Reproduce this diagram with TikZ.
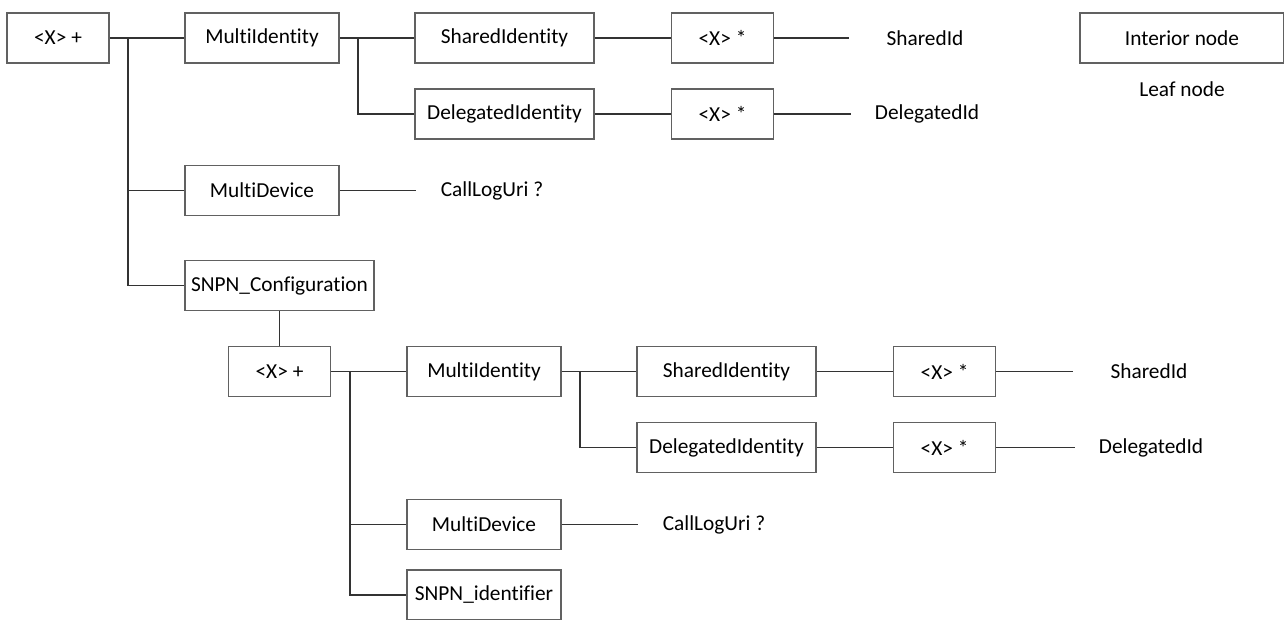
\documentclass[tikz,border=0pt]{standalone}
\usepackage{fontspec}
\setmainfont{Carlito}[Ligatures={NoCommon}]

\tikzset{
	box/.style={draw=black!62, line width=0.8pt, minimum height=37.5pt, inner sep=0pt, font=\fontsize{16}{19}\selectfont},
	xplus/.style={box, minimum width=76.5pt},
	multi/.style={box, minimum width=115.5pt},
	ident/.style={box, minimum width=134.25pt},
	leaf/.style={minimum width=114pt, minimum height=37.5pt, inner sep=0pt, font=\fontsize{16}{19}\selectfont},
	wire/.style={draw=black!80, line width=0.9pt}
}

\begin{document}
\begin{tikzpicture}[x=0.75pt, y=-0.75pt]
	\useasboundingbox (0, 0) rectangle (1284, 619);
	% Upper tree:
	\node[xplus](R1) at (58, 38){<X> +};
	\node[multi](MI1) at (262, 38){MultiIdentity};
	\node[multi](MD1) at (262, 190.5){MultiDevice};
	\node[box, minimum width=141.75pt](SC) at (279.5, 285.5){SNPN\_Configuration};
	\node[ident](SI1) at (504.5, 38){SharedIdentity};
	\node[ident](DI1) at (504.5, 114){DelegatedIdentity};
	\node[xplus](XS1) at (722.5, 38){<X> *};
	\node[xplus](XS2) at (722.5, 114){<X> *};
	\node[leaf](SL1) at (925, 38){SharedId};
	\node[leaf](DL1) at (927, 114){DelegatedId};
	\node[leaf](CL1) at (492, 190.5){CallLogUri ?};
	\coordinate (B1) at (128, 38);
	\coordinate (B2) at (358, 38);
	\draw[wire] (R1.east) -- (MI1.west);
	\draw[wire] (B1) |- (MD1.west);
	\draw[wire] (B1) |- (SC.west);
	\draw[wire] (MI1.east) -- (SI1.west);
	\draw[wire] (B2) |- (DI1.west);
	\draw[wire] (SI1.east) -- (XS1.west);
	\draw[wire] (DI1.east) -- (XS2.west);
	\draw[wire] (XS1.east) -- (SL1.west);
	\draw[wire] (XS2.east) -- (DL1.west);
	\draw[wire] (MD1.east) -- (CL1.west);
	% Lower tree:
	\node[xplus](R2) at (279.5, 371.5){<X> +};
	\node[multi](MI2) at (484, 371.5){MultiIdentity};
	\node[multi](MD2) at (484, 524.5){MultiDevice};
	\node[multi](SID) at (484, 595){SNPN\_identifier};
	\node[ident](SI2) at (726.5, 371.5){SharedIdentity};
	\node[ident](DI2) at (726.5, 447.5){DelegatedIdentity};
	\node[xplus](XS3) at (944.5, 371.5){<X> *};
	\node[xplus](XS4) at (944.5, 447.5){<X> *};
	\node[leaf](SL2) at (1149, 371.5){SharedId};
	\node[leaf](DL2) at (1151, 447.5){DelegatedId};
	\node[leaf](CL2) at (714, 524.5){CallLogUri ?};
	\coordinate (B3) at (350, 371.5);
	\coordinate (B4) at (580, 371.5);
	\draw[wire] (SC.south) -- (R2.north);
	\draw[wire] (R2.east) -- (MI2.west);
	\draw[wire] (B3) |- (MD2.west);
	\draw[wire] (B3) |- (SID.west);
	\draw[wire] (MI2.east) -- (SI2.west);
	\draw[wire] (B4) |- (DI2.west);
	\draw[wire] (SI2.east) -- (XS3.west);
	\draw[wire] (DI2.east) -- (XS4.west);
	\draw[wire] (XS3.east) -- (SL2.west);
	\draw[wire] (XS4.east) -- (DL2.west);
	\draw[wire] (MD2.east) -- (CL2.west);
	% Legend:
	\node[box, minimum width=153pt](IN) at (1182, 38){Interior node};
	\node[leaf](LN) at (1182, 89){Leaf node};
\end{tikzpicture}
\end{document}
